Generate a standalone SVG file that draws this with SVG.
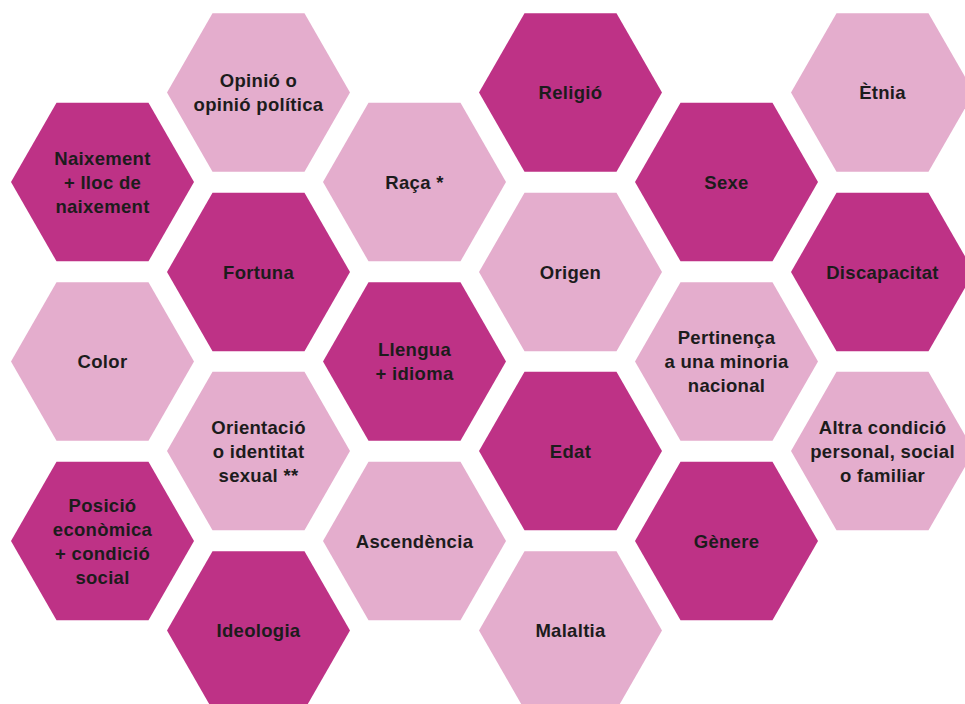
<svg xmlns="http://www.w3.org/2000/svg" width="965" height="704" viewBox="0 0 965 704">
<defs>
<polygon id="hex" points="-91.5,0 -46,-79.3 46,-79.3 91.5,0 46,79.3 -46,79.3"/>
</defs>
<style>
.d{fill:#BE3286}
.l{fill:#E4ADCD}
text{font-family:"Liberation Sans",Arial,sans-serif;font-weight:bold;font-size:18.5px;fill:#1c1c1c;text-anchor:middle;letter-spacing:0.3px}
</style>
<rect width="965" height="704" fill="#ffffff"/>
<g id="naixement" transform="translate(102.5,182)"><use href="#hex" class="d"/><text y="-17.5">Naixement</text><text y="6.5">+ lloc de</text><text y="30.5">naixement</text></g>
<g id="color" transform="translate(102.5,361.5)"><use href="#hex" class="l"/><text y="6.5">Color</text></g>
<g id="posicio" transform="translate(102.5,541)"><use href="#hex" class="d"/><text y="-29.5">Posició</text><text y="-5.5">econòmica</text><text y="18.5">+ condició</text><text y="42.5">social</text></g>
<g id="opinio" transform="translate(258.5,92.5)"><use href="#hex" class="l"/><text y="-5.5">Opinió o</text><text y="18.5">opinió política</text></g>
<g id="fortuna" transform="translate(258.5,272)"><use href="#hex" class="d"/><text y="6.5">Fortuna</text></g>
<g id="orientacio" transform="translate(258.5,451)"><use href="#hex" class="l"/><text y="-17.5">Orientació</text><text y="6.5">o identitat</text><text y="30.5">sexual **</text></g>
<g id="ideologia" transform="translate(258.5,630.5)"><use href="#hex" class="d"/><text y="6.5">Ideologia</text></g>
<g id="raca" transform="translate(414.5,182)"><use href="#hex" class="l"/><text y="6.5">Raça *</text></g>
<g id="llengua" transform="translate(414.5,361.5)"><use href="#hex" class="d"/><text y="-5.5">Llengua</text><text y="18.5">+ idioma</text></g>
<g id="ascendencia" transform="translate(414.5,541)"><use href="#hex" class="l"/><text y="6.5">Ascendència</text></g>
<g id="religio" transform="translate(570.5,92.5)"><use href="#hex" class="d"/><text y="6.5">Religió</text></g>
<g id="origen" transform="translate(570.5,272)"><use href="#hex" class="l"/><text y="6.5">Origen</text></g>
<g id="edat" transform="translate(570.5,451)"><use href="#hex" class="d"/><text y="6.5">Edat</text></g>
<g id="malaltia" transform="translate(570.5,630.5)"><use href="#hex" class="l"/><text y="6.5">Malaltia</text></g>
<g id="sexe" transform="translate(726.5,182)"><use href="#hex" class="d"/><text y="6.5">Sexe</text></g>
<g id="pertinenca" transform="translate(726.5,361.5)"><use href="#hex" class="l"/><text y="-17.5">Pertinença</text><text y="6.5">a una minoria</text><text y="30.5">nacional</text></g>
<g id="genere" transform="translate(726.5,541)"><use href="#hex" class="d"/><text y="6.5">Gènere</text></g>
<g id="etnia" transform="translate(882.5,92.5)"><use href="#hex" class="l"/><text y="6.5">Ètnia</text></g>
<g id="discapacitat" transform="translate(882.5,272)"><use href="#hex" class="d"/><text y="6.5">Discapacitat</text></g>
<g id="altra" transform="translate(882.5,451)"><use href="#hex" class="l"/><text y="-17.5">Altra condició</text><text y="6.5">personal, social</text><text y="30.5">o familiar</text></g>
<g id="connectors"></g>
</svg>
